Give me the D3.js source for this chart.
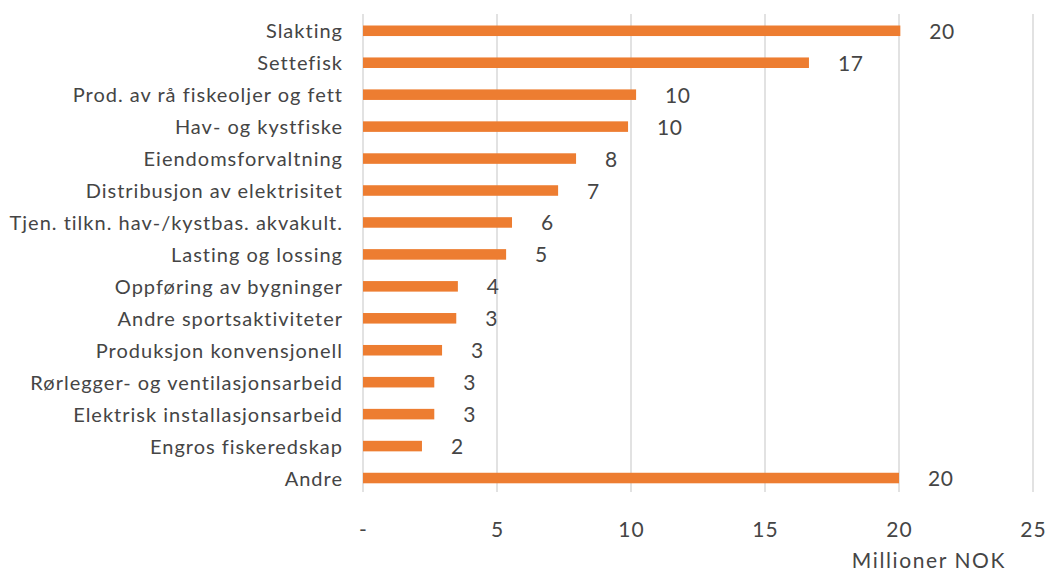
<!DOCTYPE html>
<html>
<head>
<meta charset="utf-8">
<script src="https://d3js.org/d3.v7.min.js"></script>
<style>
    body { margin: 0; background: #fff; }
    text { font-family: Lato, "Liberation Sans", sans-serif; fill: #454545; }
</style>
</head>
<body>
<div id="chart"></div>
<script>
/* Bedrifter - millioner NOK per næring */
var categories = [
    "Slakting",
    "Settefisk",
    "Prod. av rå fiskeoljer og fett",
    "Hav- og kystfiske",
    "Eiendomsforvaltning",
    "Distribusjon av elektrisitet",
    "Tjen. tilkn. hav-/kystbas. akvakult.",
    "Lasting og lossing",
    "Oppføring av bygninger",
    "Andre sportsaktiviteter",
    "Produksjon konvensjonell",
    "Rørlegger- og ventilasjonsarbeid",
    "Elektrisk installasjonsarbeid",
    "Engros fiskeredskap",
    "Andre"
];
var values = [20.05, 16.64, 10.19, 9.89, 7.95, 7.28, 5.56, 5.34, 3.54, 3.48, 2.95, 2.66, 2.66, 2.2, 20.0];
var xTicks = [0, 5, 10, 15, 20, 25];
var axisTitle = "Millioner NOK";

function plotBar() {
    var width = 1054,
        height = 571;

    var svg = d3.select("#chart").append("svg")
        .attr("width", width)
        .attr("height", height);

    var x = d3.scaleLinear()
        .domain([0, 25])
        .range([363, 1033]);

    var y = d3.scaleBand()
        .domain(categories)
        .range([14.8, 494])
        .paddingInner(0.67)
        .paddingOuter(0.335);

    // gridlines
    svg.append("g")
        .attr("class", "grid")
        .selectAll("line")
        .data(xTicks)
        .enter().append("line")
        .attr("x1", function(d) { return x(d); })
        .attr("x2", function(d) { return x(d); })
        .attr("y1", 14)
        .attr("y2", 492)
        .attr("stroke", "#d9d9d9")
        .attr("stroke-width", 1.5);

    var data = categories.map(function(c, i) {
        return { name: c, value: values[i] };
    });

    svg.selectAll(".bar")
        .data(data)
        .enter().append("rect")
        .attr("class", "bar")
        .attr("x", x(0))
        .attr("y", function(d) { return y(d.name); })
        .attr("width", function(d) { return x(d.value) - x(0); })
        .attr("height", y.bandwidth())
        .attr("fill", "#ed7d31");

    svg.selectAll(".label")
        .data(data)
        .enter().append("text")
        .attr("class", "label")
        .attr("x", function(d) { return x(d.value) + 29; })
        .attr("y", function(d) { return y(d.name) + y.bandwidth() / 2 + 8; })
        .style("font-size", "21px")
        .style("letter-spacing", "0.6px")
        .text(function(d) { return Math.round(d.value); });

    var yAxis = svg.append("g")
        .attr("transform", "translate(" + x(0) + ",0)")
        .call(d3.axisLeft(y).tickSize(0).tickPadding(20));
    yAxis.select(".domain").remove();
    yAxis.selectAll("text")
        .attr("dy", null)
        .attr("y", 7.5)
        .style("font-size", "20px")
        .style("letter-spacing", "1px")
        .style("font-family", "Lato, sans-serif")
        .attr("fill", "#454545");

    var xAxis = svg.append("g")
        .attr("transform", "translate(0,537)")
        .call(d3.axisBottom(x).tickValues(xTicks).tickSize(0)
            .tickFormat(function(d) { return d === 0 ? "-" : d; }));
    xAxis.select(".domain").remove();
    xAxis.selectAll("text")
        .attr("dy", null)
        .attr("y", 0)
        .style("font-size", "21px")
        .style("letter-spacing", "1px")
        .style("font-family", "Lato, sans-serif")
        .attr("fill", "#454545");

    svg.append("text")
        .attr("x", 1006)
        .attr("y", 568)
        .attr("text-anchor", "end")
        .style("font-size", "21px")
        .style("letter-spacing", "1.6px")
        .text(axisTitle);
}

plotBar();
</script>
</body>
</html>
